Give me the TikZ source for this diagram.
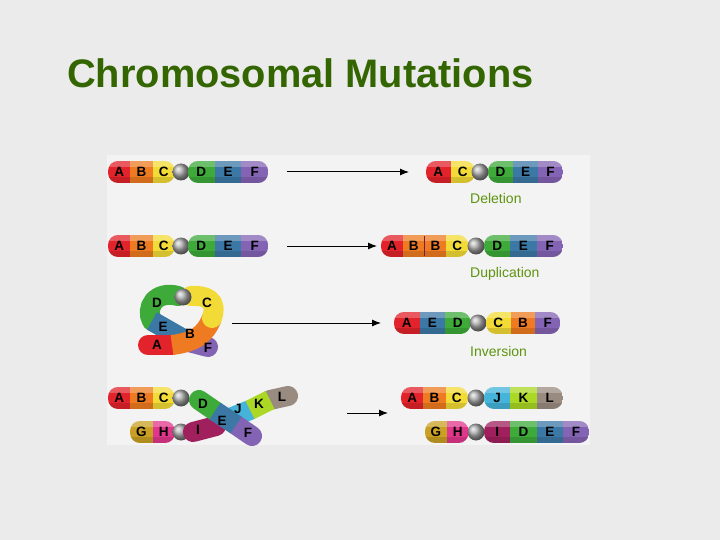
\documentclass[tikz,border=0pt]{standalone}
\usepackage{fontspec}
\setmainfont{Liberation Sans}
\usetikzlibrary{arrows.meta,calc}
\definecolor{bg}{HTML}{EBEBEB}
\definecolor{panel}{HTML}{F3F3F3}
\definecolor{ttl}{HTML}{336600}
\definecolor{lblg}{HTML}{5E9410}
\definecolor{cA}{HTML}{E2232B}
\definecolor{cB}{HTML}{EE7B22}
\definecolor{cC}{HTML}{F2DB36}
\definecolor{cD}{HTML}{3DAA3A}
\definecolor{cE}{HTML}{3C78A6}
\definecolor{cF}{HTML}{8363B3}
\definecolor{cG}{HTML}{C9A023}
\definecolor{cH}{HTML}{E2368C}
\definecolor{cI}{HTML}{A0205E}
\definecolor{cJ}{HTML}{45B3DA}
\definecolor{cK}{HTML}{AAD824}
\definecolor{cL}{HTML}{9A8B80}
\tikzset{
 lab/.style={font=\bfseries\fontsize{13.5}{13}\selectfont, text=black, inner sep=0pt},
 mut/.style={font=\fontsize{14}{14}\selectfont, text=lblg, inner sep=0pt, anchor=west},
 arr/.style={-{Latex[length=9pt,width=7pt]}, line width=1pt},
 band/.style={line width=20pt, line cap=round},
 bandb/.style={line width=20pt, line cap=butt},
}
\newcommand\chrarm[5]{%
 \begin{scope}
 \clip[rounded corners=10pt] (#1,#2-11) rectangle ++(#4*#3,22);
 \foreach \c/\l [count=\i from 0] in {#5}{
  \fill[\c] (#1+\i*#3,#2-11) rectangle ++(#3,22);
 }
 \fill[white,opacity=0.25] (#1,#2-11) rectangle ++(#4*#3,6);
 \fill[black,opacity=0.12] (#1,#2+5) rectangle ++(#4*#3,6);
 \end{scope}
 \foreach \c/\l [count=\i from 0] in {#5}{
  \node[lab] at (#1+\i*#3+#3/2,#2) {\l};
 }}
\newcommand\cball[2]{\shade[ball color=gray!65] (#1,#2) circle (8.5);}
\begin{document}
\begin{tikzpicture}[x=1pt,y=-1pt]
\fill[bg] (0,0) rectangle (720,540);
\useasboundingbox (0,0) rectangle (720,540);
\fill[panel] (107,155) rectangle (590,445);
\node[anchor=base west, text=ttl, font=\bfseries\fontsize{39.8}{40}\selectfont, inner sep=0pt] (title) at (67,88) {Chromosomal Mutations};

% row 1
\chrarm{108}{172}{22.3}{3}{cA/A,cB/B,cC/C}
\cball{181}{172}
\chrarm{188}{172}{26.7}{3}{cD/D,cE/E,cF/F}
\coordinate (a1s) at (287,172); \coordinate (a1e) at (409,172);
\draw[arr] (a1s) -- (a1e);
\chrarm{426}{172}{24.5}{2}{cA/A,cC/C}
\cball{480}{172}
\chrarm{488}{172}{25}{3}{cD/D,cE/E,cF/F}
\node[mut] (del) at (470,198) {Deletion};

% row 2
\chrarm{108}{246}{22.3}{3}{cA/A,cB/B,cC/C}
\cball{181}{246}
\chrarm{188}{246}{26.7}{3}{cD/D,cE/E,cF/F}
\coordinate (a2s) at (287,246); \coordinate (a2e) at (377,246);
\draw[arr] (a2s) -- (a2e);
\chrarm{381}{246}{21.8}{4}{cA/A,cB/B,cB/B,cC/C}
\draw[cI!80!black,line width=0.8pt] (424.6,236) -- (424.6,256);
\cball{476}{246}
\chrarm{484}{246}{26.3}{3}{cD/D,cE/E,cF/F}
\node[mut] (dup) at (470,274) {Duplication};

% row 3 inversion loop
\draw[band,cD] (178,296) .. controls (155,290) and (145,308) .. (152,321);
\draw[band,cF] (185,341) -- (208,347);
\draw[bandb,cE] (152,321) -- (187,341);
\draw[band,cA] (148,345) -- (172,345);
\draw[bandb,cB] (172,345) .. controls (195,342) and (205,335) .. (212,318);
\draw[band,cC] (212,318) .. controls (218,300) and (206,295) .. (191,296);
\cball{183}{297}
\node[lab] at (157,303) {D}; \node[lab] at (207,303) {C};
\node[lab] at (163,327) {E}; \node[lab] at (190,334) {B};
\node[lab] at (157,345) {A}; \node[lab] at (208,348) {F};
\coordinate (a3s) at (232,323); \coordinate (a3e) at (381,323);
\draw[arr] (a3s) -- (a3e);
\chrarm{394}{323}{25.5}{3}{cA/A,cE/E,cD/D}
\cball{478}{323}
\chrarm{486}{323}{24.7}{3}{cC/C,cB/B,cF/F}
\node[mut] (inv) at (470,351) {Inversion};

% row 4 translocation
\chrarm{108}{398}{22.3}{3}{cA/A,cB/B,cC/C}
\cball{181}{398}
\chrarm{130}{432}{22.5}{2}{cG/G,cH/H}
\cball{181}{432}
\draw[band,cI] (193,432) -- (216,426);
\draw[band,cL] (270,400) -- (288,396);
\draw[band,cJ] (230,418) -- (250,410);
\draw[bandb,cK] (250,410) -- (270,400);
\draw[band,cD] (199,400) -- (215,411);
\draw[band,cF] (236,425) -- (252,436);
\draw[bandb,cE] (215,411) -- (236,425);
\node[lab] at (203,404) {D}; \node[lab] at (222,421) {E};
\node[lab] at (248,433) {F}; \node[lab] at (238,409) {J};
\node[lab] at (259,404) {K}; \node[lab] at (282,397) {L};
\node[lab] at (198,430) {I};
\coordinate (a4s) at (347,413); \coordinate (a4e) at (388,413);
\draw[arr] (a4s) -- (a4e);
\chrarm{401}{398}{22.3}{3}{cA/A,cB/B,cC/C}
\cball{476}{398}
\chrarm{484}{398}{26.3}{3}{cJ/J,cK/K,cL/L}
\chrarm{425}{432}{21.8}{2}{cG/G,cH/H}
\cball{476}{432}
\chrarm{484}{432}{26.3}{4}{cI/I,cD/D,cE/E,cF/F}
\end{tikzpicture}
\end{document}
